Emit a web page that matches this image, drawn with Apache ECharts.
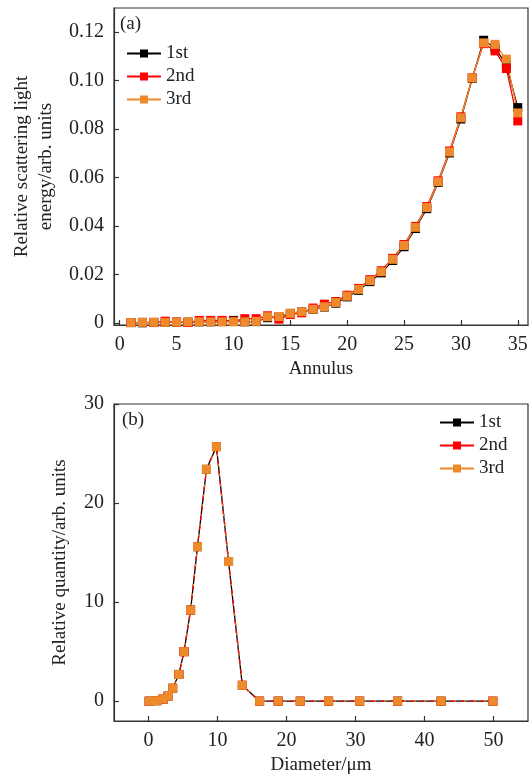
<!DOCTYPE html>
<html>
<head>
<meta charset="utf-8">
<script src="https://cdn.jsdelivr.net/npm/echarts@6/dist/echarts.min.js"></script>
<style>
  html, body { margin: 0; padding: 0; background: #fff; }
  #chart { width: 532px; height: 775px; }
</style>
</head>
<body>
<div id="chart"></div>
<script>
// Panel (a): relative scattering light energy per detector annulus
const annulus = [1,2,3,4,5,6,7,8,9,10,11,12,13,14,15,16,17,18,19,20,21,22,23,24,25,26,27,28,29,30,31,32,33,34,35];
const energy1st = [0.0002,0.0001,0.0002,0.0003,0.0004,0.0004,0.0005,0.0005,0.0006,0.0011,0.0005,0.0006,0.0022,0.0026,0.0040,0.0047,0.0056,0.0066,0.0082,0.0108,0.0135,0.0171,0.0207,0.0258,0.0315,0.0390,0.0472,0.0580,0.0702,0.0842,0.1010,0.1167,0.1135,0.1065,0.0889];
const energy2nd = [0.0002,0.0003,0.0003,0.0008,0.0004,0.0002,0.0011,0.0011,0.0011,0.0008,0.0018,0.0018,0.0030,0.0016,0.0035,0.0042,0.0062,0.0078,0.0089,0.0115,0.0143,0.0179,0.0216,0.0267,0.0324,0.0399,0.0481,0.0587,0.0710,0.0851,0.1012,0.1153,0.1123,0.1050,0.0834];
const energy3rd = [0.0002,0.0003,0.0003,0.0003,0.0004,0.0005,0.0005,0.0005,0.0005,0.0005,0.0005,0.0007,0.0026,0.0027,0.0040,0.0047,0.0057,0.0067,0.0085,0.0111,0.0139,0.0175,0.0212,0.0263,0.0320,0.0395,0.0477,0.0583,0.0706,0.0847,0.1012,0.1156,0.1150,0.1089,0.0867];
const ticksA_x = [0,5,10,15,20,25,30,35];
const ticksA_y = [0,0.02,0.04,0.06,0.08,0.10,0.12];

// Panel (b): retrieved particle size distribution
const diameter = [0.1,1.2,2.1,2.8,3.5,4.4,5.15,6.1,7.1,8.4,9.85,11.6,13.6,16.1,18.8,22.0,26.1,30.6,36.1,42.4,49.9];
const quantity1st = [0.0,0.05,0.2,0.5,1.3,2.7,5.0,9.2,15.6,23.4,25.7,14.1,1.6,0,0,0,0,0,0,0,0];
const quantity2nd = [0.0,0.05,0.2,0.5,1.3,2.7,5.0,9.2,15.6,23.4,25.7,14.1,1.6,0,0,0,0,0,0,0,0];
const quantity3rd = [0.0,0.05,0.2,0.5,1.3,2.7,5.0,9.2,15.6,23.4,25.7,14.1,1.6,0,0,0,0,0,0,0,0];
const ticksB_x = [0,10,20,30,40,50];
const ticksB_y = [0,10,20,30];

const seriesNames = ['1st', '2nd', '3rd'];
const colors = ['#000000', '#ff0000', '#ef8a2c'];

const FONT = 'Liberation Serif';
const TXT = '#222';

function zip(xs, ys) { return xs.map((x, i) => [x, ys[i]]); }

function axisCommon(ticks, fmt) {
  return {
    axisLine: { show: true, onZero: false, lineStyle: { color: '#333', width: 1.2 } },
    axisTick: { show: true, inside: true, length: 5, customValues: ticks, lineStyle: { color: '#333', width: 1.2 } },
    axisLabel: { customValues: ticks, formatter: fmt, fontFamily: FONT, fontSize: 20, color: TXT, margin: 10 },
    splitLine: { show: false },
    nameTextStyle: { fontFamily: FONT, fontSize: 19, color: TXT, lineHeight: 24 }
  };
}

const chart = echarts.init(document.getElementById('chart'), null, { renderer: 'canvas' });

// fixed plot boxes; labels are allowed to sit outside them
const gridStyle = { show: true, borderColor: '#333', borderWidth: 1.2, backgroundColor: 'transparent',
  containLabel: false, outerBoundsMode: 'none' };

const legendCommon = {
  orient: 'vertical', itemWidth: 34, itemHeight: 10, itemGap: 4,
  lineStyle: { type: 'solid' },
  textStyle: { fontFamily: FONT, fontSize: 19, color: TXT }
};

const option = {
  animation: false,
  backgroundColor: '#fff',
  grid: [
    Object.assign({ left: 114, top: 8, width: 414, height: 317 }, gridStyle),
    Object.assign({ left: 114, top: 404, width: 414, height: 317 }, gridStyle)
  ],
  xAxis: [
    Object.assign(axisCommon(ticksA_x, v => String(v)), {
      type: 'value', gridIndex: 0, min: -0.5, max: 35.9,
      name: 'Annulus', nameLocation: 'middle', nameGap: 32
    }),
    Object.assign(axisCommon(ticksB_x, v => String(v)), {
      type: 'value', gridIndex: 1, min: -5, max: 55,
      name: 'Diameter/\u03bcm', nameLocation: 'middle', nameGap: 32
    })
  ],
  yAxis: [
    Object.assign(axisCommon(ticksA_y, v => (v === 0 ? '0' : v.toFixed(2))), {
      type: 'value', gridIndex: 0, min: -0.0008, max: 0.13,
      name: 'Relative scattering light\nenergy/arb. units', nameLocation: 'middle', nameGap: 52, nameRotate: 90
    }),
    Object.assign(axisCommon(ticksB_y, v => String(v)), {
      type: 'value', gridIndex: 1, min: -2, max: 30,
      name: 'Relative quantity/arb. units', nameLocation: 'middle', nameGap: 42, nameRotate: 90
    })
  ],
  legend: [
    Object.assign({ data: seriesNames, left: 121, top: 39 }, legendCommon),
    Object.assign({ data: seriesNames.map(n => n + ' '), left: 434, top: 408, formatter: n => n.trim() }, legendCommon)
  ],
  graphic: [
    { type: 'text', left: 120, top: 15, style: { text: '(a)', font: '19px "Liberation Serif"', fill: TXT } },
    { type: 'text', left: 122, top: 411, style: { text: '(b)', font: '19px "Liberation Serif"', fill: TXT } }
  ],
  series: [
    { name: '1st', type: 'line', xAxisIndex: 0, yAxisIndex: 0, data: zip(annulus, energy1st),
      symbol: 'rect', symbolSize: 9, color: colors[0], lineStyle: { width: 1.3 } },
    { name: '2nd', type: 'line', xAxisIndex: 0, yAxisIndex: 0, data: zip(annulus, energy2nd),
      symbol: 'rect', symbolSize: 9, color: colors[1], lineStyle: { width: 1.3 } },
    { name: '3rd', type: 'line', xAxisIndex: 0, yAxisIndex: 0, data: zip(annulus, energy3rd),
      symbol: 'rect', symbolSize: 9, color: colors[2], lineStyle: { width: 1.3 } },
    { name: '1st ', type: 'line', xAxisIndex: 1, yAxisIndex: 1, data: zip(diameter, quantity1st),
      symbol: 'rect', symbolSize: 9, color: colors[0], lineStyle: { width: 1.3 } },
    { name: '2nd ', type: 'line', xAxisIndex: 1, yAxisIndex: 1, data: zip(diameter, quantity2nd),
      symbol: 'rect', symbolSize: 9, color: colors[1], lineStyle: { width: 1.3, type: [5, 5] } },
    { name: '3rd ', type: 'line', xAxisIndex: 1, yAxisIndex: 1, data: zip(diameter, quantity3rd),
      symbol: 'rect', symbolSize: 9, color: colors[2], lineStyle: { width: 1.3, type: [2, 8], dashOffset: 6 } }
  ]
};

chart.setOption(option);
</script>
</body>
</html>
